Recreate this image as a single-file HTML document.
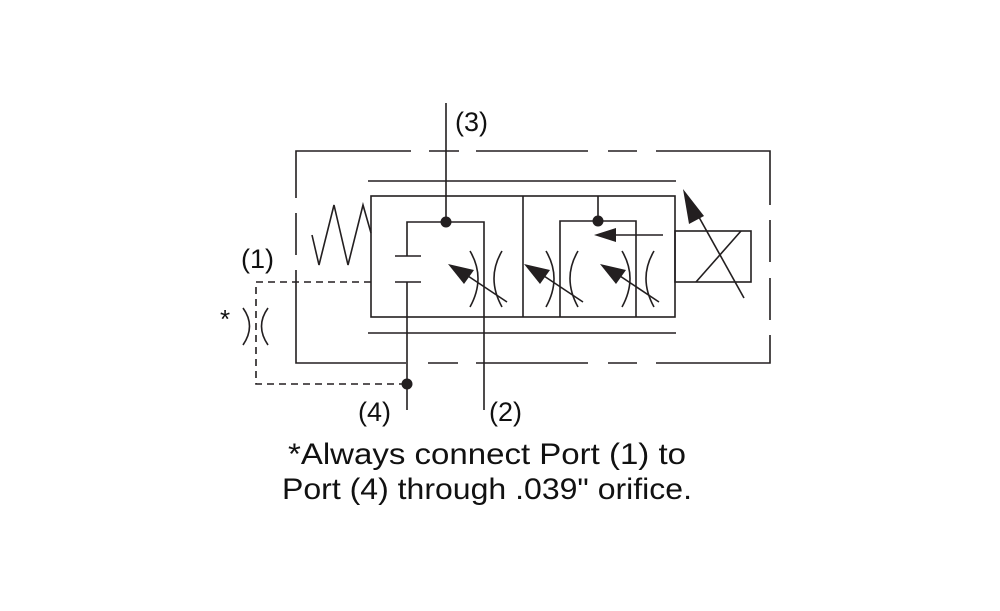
<!DOCTYPE html>
<html><head><meta charset="utf-8"><style>html,body{margin:0;padding:0;background:#fff;}svg{display:block}</style></head>
<body>
<svg width="1000" height="611" viewBox="0 0 1000 611" xmlns="http://www.w3.org/2000/svg">
<g stroke="#231f20" stroke-width="1.6" fill="none">
<path d="M411 151H296V198M296 213V255M296 270V363H406M429 151H459M476 151H588M608 151H637M656 151H770V205M770 220V262M770 278V320M770 335V363H656M637 363H608M588 363H476M458 363H428"/>
<path d="M368 181H676M368 333H676"/>
<rect x="371" y="196" width="304" height="121"/>
<path d="M523 196V317"/>
<path d="M312 235L319 265L334 205L348 265L363 205L371 233"/>
<path d="M446 103V222M407 256V222H484V410M395 256H421M395 282H421M407 282V410"/>
<path d="M371 282H256V384H407" stroke-dasharray="7,5"/>
<path d="M470 251Q486 278 470 307M502 251Q486 278 502 307"/>
<path d="M507 302L462 272"/>
<path d="M598 196V221M560 317V221H636V317"/>
<path d="M663 235H612"/>
<path d="M546 251Q562 278 546 307M578 251Q562 278 578 307"/>
<path d="M583 302L538 272"/>
<path d="M622 251Q638 278 622 307M654 251Q638 278 654 307"/>
<path d="M659 302L614 272"/>
<rect x="675" y="231" width="76" height="51"/>
<path d="M696 282L741 231"/>
<path d="M744 298L695 210"/>
<path d="M243 308Q256 326 243 345M268 308Q255 326 268 345"/>
</g>
<g fill="#231f20">
<circle cx="446" cy="222" r="5.5"/>
<circle cx="598" cy="221" r="5.5"/>
<circle cx="407" cy="384" r="5.5"/>
<polygon points="448,264 474,270 464,284"/>
<polygon points="524,264 550,270 540,284"/>
<polygon points="600,264 626,270 616,284"/>
<polygon points="594,235 616,228 616,242"/>
<polygon points="683,189 704,216 689,224"/>
</g>
<g font-family="Liberation Sans, sans-serif" fill="#111" font-size="27">
<text x="455" y="131">(3)</text>
<text x="241" y="268">(1)</text>
<text x="220" y="328" font-size="26">*</text>
<text x="358" y="421">(4)</text>
<text x="489" y="421">(2)</text>
<text x="288" y="464" font-size="30" textLength="398" lengthAdjust="spacingAndGlyphs">*Always connect Port (1) to</text>
<text x="282" y="499" font-size="30" textLength="410" lengthAdjust="spacingAndGlyphs">Port (4) through .039" orifice.</text>
</g>
</svg>
</body></html>
